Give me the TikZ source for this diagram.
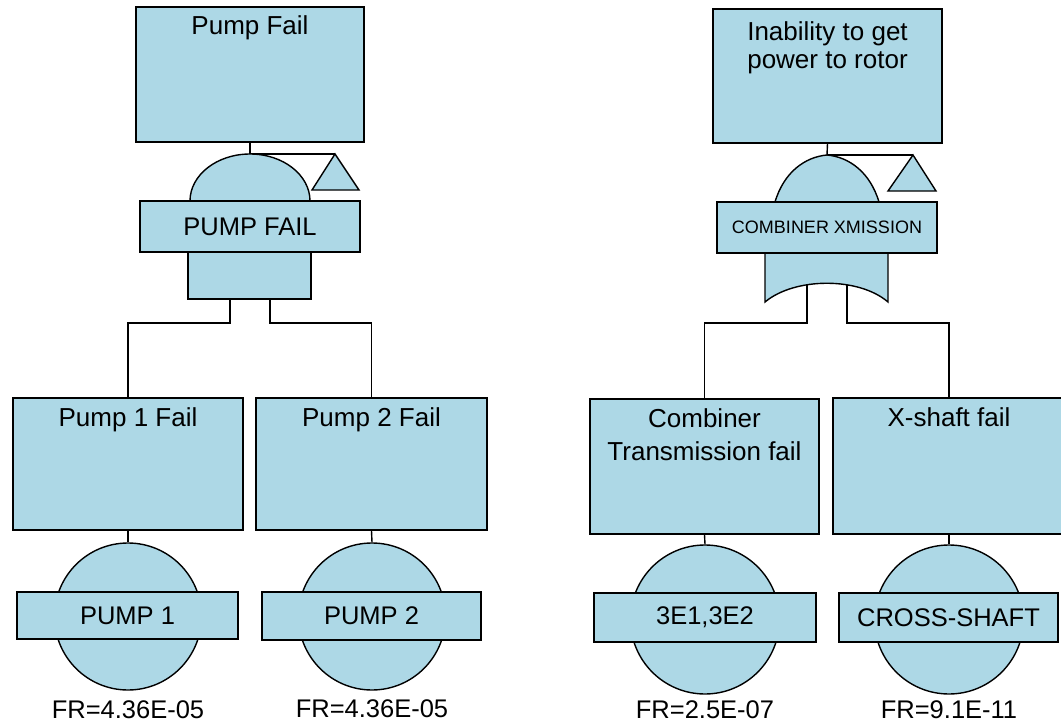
\documentclass[tikz,border=0pt]{standalone}
\usepackage{fontspec}
\setmainfont{Liberation Sans}
\definecolor{ftfill}{RGB}{173,216,230}
\begin{document}
\begin{tikzpicture}[x=1pt,y=-1pt,line width=1.4pt,
  evbox/.style={draw,fill=ftfill,rectangle,inner sep=0pt},
  lbl/.style={draw,fill=ftfill,rectangle,inner sep=0pt,font=\fontsize{25.5}{30}\selectfont},
  basic/.style={draw,fill=ftfill,circle,inner sep=0pt},
  ttl/.style={inner sep=0pt,anchor=base,font=\fontsize{26}{30}\selectfont},
  ttl2/.style={inner sep=0pt,anchor=north,align=center},
  fr/.style={inner sep=0pt,anchor=base,font=\fontsize{25.5}{30}\selectfont},
  gate/.style={draw,fill=ftfill}]
\useasboundingbox (0,0) rectangle (1061,728);

% ---------- left tree ----------
\node[evbox,minimum width=228pt,minimum height=135pt] (top1) at (250,74.5) {};
\node[ttl] at ([yshift=-28pt]top1.north) {Pump Fail};

\node[evbox,minimum width=230pt,minimum height=132pt] (p1) at (128,464) {};
\node[ttl] at ([yshift=-29pt]p1.north) {Pump 1 Fail};
\node[evbox,minimum width=231pt,minimum height=132pt] (p2) at (371.5,464) {};
\node[ttl] at ([yshift=-29pt]p2.north) {Pump 2 Fail};

\coordinate (g1top) at (250,154);
\coordinate (t1) at (335,154);
\coordinate (g1a) at (230,299);
\coordinate (g1b) at (270,299);

\draw (top1.south) -- (g1top);
\draw (g1top) -- (t1);
\draw[gate] (t1) -- (359,190) -- (312,190) -- cycle;
\draw (g1a) -- ++(0,24) -| (p1.north);
\draw (g1b) -- ++(0,24) -| (p2.north);

% AND gate
\draw[gate] (190,201) arc[start angle=180,end angle=0,x radius=60pt,y radius=47pt] -- cycle;
\draw[gate] (188,240) rectangle (311,299);
\node[lbl,minimum width=220pt,minimum height=51pt] (g1) at (250,226.5) {PUMP FAIL};

% basic events
\node[basic,minimum size=147pt] (c1) at (128,616.5) {};
\node[basic,minimum size=147pt] (c2) at (372,616.5) {};
\draw (p1.south) -- (c1.north);
\draw (p2.south) -- (c2.north);
\node[lbl,minimum width=221pt,minimum height=47pt] (l1) at (127.5,615.5) {PUMP 1};
\node[lbl,minimum width=219pt,minimum height=48pt] (l2) at (371.5,616) {PUMP 2};
\node[fr] at ([yshift=-28pt]c1.south) {FR=4.36E-05};
\node[fr] at ([yshift=-27pt]c2.south) {FR=4.36E-05};

% ---------- right tree ----------
\node[evbox,minimum width=229pt,minimum height=134pt] (top2) at (827.5,76) {};
\node[ttl2,font=\fontsize{26}{28}\selectfont] at ([yshift=-13pt]top2.north) {Inability to get\\power to rotor};

\node[evbox,minimum width=229pt,minimum height=135pt] (cb) at (704.5,466.5) {};
\node[ttl2,font=\fontsize{26}{33}\selectfont] at ([yshift=-10pt]cb.north) {Combiner\\Transmission fail};
\node[evbox,minimum width=232pt,minimum height=136pt] (xs) at (949,466) {};
\node[ttl] at ([yshift=-29pt]xs.north) {X-shaft fail};

\coordinate (g2top) at (827,155);
\coordinate (t2) at (913,155);
\coordinate (g2a) at (807,285);
\coordinate (g2b) at (847,285);

\draw (top2.south) -- (g2top);
\draw (g2top) -- (t2);
\draw[gate] (t2) -- (936,191) -- (888,191) -- cycle;
\draw (g2a) -- ++(0,38) -| (cb.north);
\draw (g2b) -- ++(0,38) -| (xs.north);

% OR gate
\draw[gate] (775,202) .. controls (784,172) and (805,157) .. (g2top)
  .. controls (849,157) and (870,172) .. (879,202) -- cycle;
\draw[gate] (765,240) -- (765,302) .. controls (795,277) and (859,277) .. (888,302) -- (888,240) -- cycle;
\node[lbl,minimum width=220pt,minimum height=51pt,font=\fontsize{18}{22}\selectfont] (g2) at (827,227.5) {COMBINER XMISSION};

\node[basic,minimum size=149pt] (c3) at (705,619.5) {};
\node[basic,minimum size=149pt] (c4) at (949,619.5) {};
\draw (cb.south) -- (c3.north);
\draw (xs.south) -- (c4.north);
\node[lbl,minimum width=222pt,minimum height=49pt] (l3) at (705,617.5) {3E1,3E2};
\node[lbl,minimum width=219pt,minimum height=49pt] (l4) at (948.5,617.5) {CROSS-SHAFT};
\node[fr] at ([yshift=-24pt]c3.south) {FR=2.5E-07};
\node[fr] at ([yshift=-24pt]c4.south) {FR=9.1E-11};
\end{tikzpicture}
\end{document}
